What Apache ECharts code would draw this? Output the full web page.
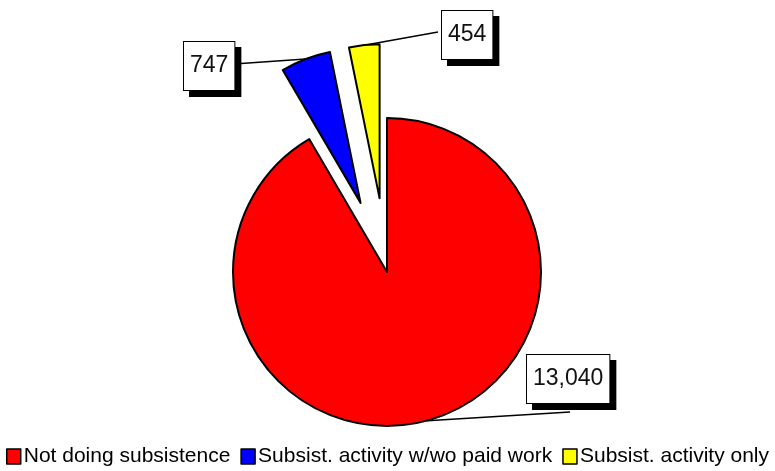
<!DOCTYPE html>
<html>
<head>
<meta charset="utf-8">
<script src="https://cdn.jsdelivr.net/npm/echarts@6/dist/echarts.min.js"></script>
<style>
  html, body { margin: 0; padding: 0; background: #fff; }
  #chart { width: 775px; height: 471px; }
</style>
</head>
<body>
<div id="chart"></div>
<script>
const categories = ["Not doing subsistence", "Subsist. activity w/wo paid work", "Subsist. activity only"];
const counts = [13040, 747, 454];
const colors = ["#ff0000", "#0000ff", "#ffff00"];
const exploded = [false, true, true];

const FONT = '"Liberation Sans", Arial, sans-serif';
const CENTER = [387, 272];
const RADIUS = 154;
const PULL = 74; // how far the exploded slices are pulled out

// value box placement (top-left corner) and where its leader line ends, px
const labelSpots = [
    { x: 527, y: 355, lineTo: [43, 57] },
    { x: 184, y: 42, lineTo: [50, 22] },
    { x: 442, y: 11, lineTo: [-4, 21] },
];

// mid angle of each slice, degrees clockwise from 12 o'clock
const total = counts.reduce((a, b) => a + b, 0);
let acc = 0;
const midAngles = counts.map((v) => {
    const mid = (acc + v / 2) / total * 360;
    acc += v;
    return mid;
});

// one pie per slice so each exploded slice keeps its own label placement
const series = categories.map((_, k) => {
    const a = midAngles[k] * Math.PI / 180;
    const pull = exploded[k] ? PULL : 0;
    const spot = labelSpots[k];
    return {
        type: "pie",
        center: [CENTER[0] + pull * Math.sin(a), CENTER[1] - pull * Math.cos(a)],
        radius: RADIUS,
        startAngle: 90,
        clockwise: true,
        avoidLabelOverlap: false,
        silent: true,
        z: 2 + k,
        emphasis: { disabled: true, scale: false },
        label: {
            show: true,
            position: "outside",
            formatter: (p) => p.value.toLocaleString("en-US"),
            fontFamily: FONT,
            fontSize: 23,
            lineHeight: 24,
            color: "#111",
            backgroundColor: "#fff",
            borderColor: "#000",
            borderWidth: 1,
            padding: [12, 6, 12, 6],
            shadowColor: "#000",
            shadowBlur: 0,
            shadowOffsetX: 6,
            shadowOffsetY: 6,
        },
        labelLine: {
            show: true,
            length: 10,
            length2: 10,
            lineStyle: { color: "#000", width: 1.5 },
        },
        labelLayout: (params) => {
            if (params.dataIndex !== k) return {};
            const out = { x: spot.x, y: spot.y, align: "left", verticalAlign: "top" };
            const pts = params.labelLinePoints;
            if (pts && pts.length) {
                out.labelLinePoints = [pts[0].slice(), [spot.x + spot.lineTo[0], spot.y + spot.lineTo[1]]];
            }
            return out;
        },
        data: categories.map((name, i) => i === k
            ? { name, value: counts[i], itemStyle: { color: colors[i], borderColor: "#000", borderWidth: 2 } }
            : {
                name, value: counts[i],
                itemStyle: { color: "rgba(0,0,0,0)", borderWidth: 0 },
                label: { show: false },
                labelLine: { show: false },
            }),
    };
});

const chart = echarts.init(document.getElementById("chart"));

chart.setOption({
    animation: false,
    legend: {
        bottom: 4,
        left: "center",
        padding: 0,
        itemWidth: 14,
        itemHeight: 15,
        itemGap: 10,
        icon: "rect",
        selectedMode: false,
        textStyle: { fontFamily: FONT, fontSize: 21, color: "#000", padding: [0, 0, 0, -2] },
        data: categories.map((name, i) => ({
            name,
            itemStyle: { color: colors[i], borderColor: "#000", borderWidth: 1.5 },
        })),
    },
    series,
});
</script>
</body>
</html>
